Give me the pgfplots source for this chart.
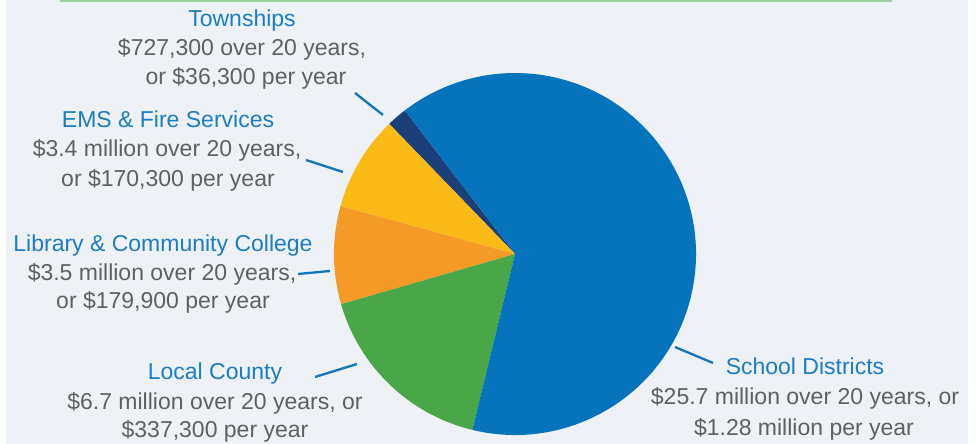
\documentclass[border=0pt]{standalone}
\usepackage{pgfplots}
\usepackage{pgfplotstable}
\pgfplotsset{compat=1.18}
\usepackage{fontspec}
\setmainfont{Liberation Sans}

\definecolor{bgc}{HTML}{EEF2F6}
\definecolor{topline}{HTML}{9DD39C}
\definecolor{cSchool}{HTML}{0674BC}
\definecolor{cCounty}{HTML}{49A747}
\definecolor{cLib}{HTML}{F59927}
\definecolor{cEMS}{HTML}{FBBB17}
\definecolor{cTown}{HTML}{1B3F79}
\definecolor{lblue}{HTML}{1B7DC4}
\definecolor{tgray}{HTML}{5F6062}
\definecolor{leader}{HTML}{1573BA}

% values in million dollars over 20 years, counter-clockwise order
\pgfplotstableread{
label value
Townships 0.7273
EMS 3.4
Library 3.5
County 6.7
School 25.7
}\piedata

\pgfplotstablegetelem{0}{value}\of\piedata \let\vA\pgfplotsretval
\pgfplotstablegetelem{1}{value}\of\piedata \let\vB\pgfplotsretval
\pgfplotstablegetelem{2}{value}\of\piedata \let\vC\pgfplotsretval
\pgfplotstablegetelem{3}{value}\of\piedata \let\vD\pgfplotsretval
\pgfplotstablegetelem{4}{value}\of\piedata \let\vE\pgfplotsretval
\pgfmathsetmacro\tot{\vA+\vB+\vC+\vD+\vE}
\pgfmathsetmacro\aA{127.5}
\pgfmathsetmacro\aB{\aA+360*\vA/\tot}
\pgfmathsetmacro\aC{\aB+360*\vB/\tot}
\pgfmathsetmacro\aD{\aC+360*\vC/\tot}
\pgfmathsetmacro\aE{\aD+360*\vD/\tot}
\pgfmathsetmacro\aF{\aE+360*\vE/\tot}
\def\cx{515}
\def\cy{190}
\def\R{181}

\newcommand{\slice}[3]{%
  \fill[#3] (axis cs:\cx,\cy) -- (axis cs:{\cx+\R*cos(#1)},{\cy+\R*sin(#1)})
    arc[start angle=#1, end angle=#2, radius=\R pt] -- cycle;}

\tikzset{lbl/.style={font=\fontsize{23}{28}\selectfont, inner sep=0pt, anchor=base}}

\begin{document}
\begin{tikzpicture}
\begin{axis}[name=ax, x=1pt, y=1pt, xmin=0, xmax=979, ymin=0, ymax=444,
  hide axis, clip=false]
\fill[bgc] (axis cs:6,0) rectangle (axis cs:968,444);
\draw[topline, line width=2pt] (axis cs:60,443.2) -- (axis cs:892,443.2);
\slice{\aA}{\aB}{cTown}
\slice{\aB}{\aC}{cEMS}
\slice{\aC}{\aD}{cLib}
\slice{\aD}{\aE}{cCounty}
\slice{\aE}{\aF}{cSchool}
% leader lines
\begin{scope}[leader, line width=2.3pt]
\draw (axis cs:355,351) -- (axis cs:383,329);
\draw (axis cs:306,284) -- (axis cs:343,272);
\draw (axis cs:298,170) -- (axis cs:330,173);
\draw (axis cs:315,67) -- (axis cs:357,80);
\draw (axis cs:675,97) -- (axis cs:713,81);
\end{scope}
% labels
\node[lbl, lblue] at (axis cs:242,417) {Townships};
\node[lbl, tgray] at (axis cs:242,388) {\$727,300 over 20 years,};
\node[lbl, tgray] at (axis cs:246,359) {or \$36,300 per year};
\node[lbl, lblue] at (axis cs:168,316) {EMS \& Fire Services};
\node[lbl, tgray] at (axis cs:167,287) {\$3.4 million over 20 years,};
\node[lbl, tgray] at (axis cs:168,257) {or \$170,300 per year};
\node[lbl, lblue] at (axis cs:163,192) {Library \& Community College};
\node[lbl, tgray] at (axis cs:162,163) {\$3.5 million over 20 years,};
\node[lbl, tgray] at (axis cs:163,135) {or \$179,900 per year};
\node[lbl, lblue] at (axis cs:215,64) {Local County};
\node[lbl, tgray] at (axis cs:215,34) {\$6.7 million over 20 years, or};
\node[lbl, tgray] at (axis cs:215,6) {\$337,300 per year};
\node[lbl, lblue] at (axis cs:805,69) {School Districts};
\node[lbl, tgray] at (axis cs:805,39) {\$25.7 million over 20 years, or};
\node[lbl, tgray] at (axis cs:804,9) {\$1.28 million per year};
\end{axis}
\pgfresetboundingbox
\path (ax.south west) rectangle (ax.north east);
\end{tikzpicture}
\end{document}
